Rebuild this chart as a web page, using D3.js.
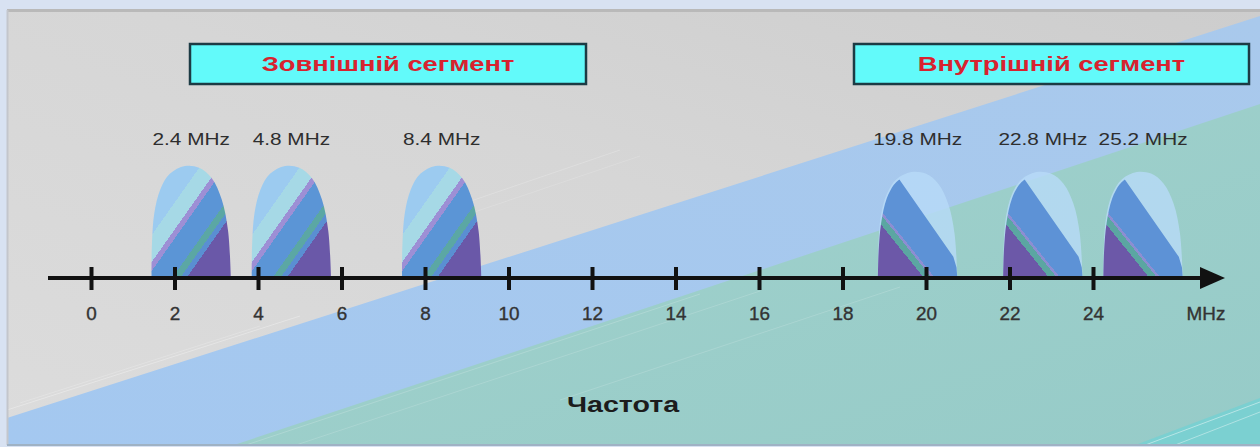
<!DOCTYPE html>
<html>
<head>
<meta charset="utf-8">
<script src="https://cdn.jsdelivr.net/npm/d3@7"></script>
<style>
  html, body { margin: 0; padding: 0; background: #d8e2f2; }
  svg { display: block; }
</style>
</head>
<body>
<svg id="chart" width="1260" height="447"></svg>
<script>
// ---- data ----
const tickValues = [0, 2, 4, 6, 8, 10, 12, 14, 16, 18, 20, 22, 24];
const axisUnit = "MHz";
const axisTitle = "Частота";
const segmentTitles = ["Зовнішній сегмент", "Внутрішній сегмент"];
const externalChannels = [2.4, 4.8, 8.4];     // upstream carriers, MHz
const internalChannels = [19.8, 22.8, 25.2];  // downstream carriers, MHz

// ---- layout ----
const W = 1260, H = 447;
const axisY = 278;
const halfBand = 0.95;        // half channel width, MHz
const FONT = "'Liberation Sans', Arial, sans-serif";

const svg = d3.select("#chart");
const defs = svg.append("defs");

const x = d3.scaleLinear().domain([0, 24]).range([91, 1093]);

// ---- background panel ----
const panel = { x0: 7, y0: 10, x1: W, y1: 445 };
const grayGrad = defs.append("linearGradient").attr("id", "gray-grad")
  .attr("x1", 0).attr("y1", 1).attr("x2", 1).attr("y2", 0);
grayGrad.append("stop").attr("offset", 0).attr("stop-color", "#dcdcdc");
grayGrad.append("stop").attr("offset", 0.55).attr("stop-color", "#d6d6d6");
grayGrad.append("stop").attr("offset", 1).attr("stop-color", "#cdcdcd");

const blueGrad = defs.append("linearGradient").attr("id", "blue-grad")
  .attr("x1", 0).attr("y1", 1).attr("x2", 1).attr("y2", 0);
blueGrad.append("stop").attr("offset", 0).attr("stop-color", "#a4c8f0");
blueGrad.append("stop").attr("offset", 1).attr("stop-color", "#a9c9ec");

const tealGrad = defs.append("linearGradient").attr("id", "teal-grad")
  .attr("x1", 0).attr("y1", 0).attr("x2", 1).attr("y2", 1);
tealGrad.append("stop").attr("offset", 0).attr("stop-color", "#a2d2cc");
tealGrad.append("stop").attr("offset", 1).attr("stop-color", "#96cbc8");

defs.append("clipPath").attr("id", "panel-clip")
  .append("rect").attr("x", panel.x0).attr("y", panel.y0)
  .attr("width", panel.x1 - panel.x0).attr("height", panel.y1 - panel.y0);

const bg = svg.append("g").attr("clip-path", "url(#panel-clip)");
bg.append("rect").attr("x", panel.x0).attr("y", panel.y0)
  .attr("width", panel.x1 - panel.x0).attr("height", panel.y1 - panel.y0)
  .attr("fill", "url(#gray-grad)");
// blue band below the first diagonal
bg.append("path").attr("d", "M7,418 L1260,16 L1260,447 L7,447 Z").attr("fill", "url(#blue-grad)");
// teal field below the second diagonal
bg.append("path").attr("d", "M228,447 L1260,104 L1260,447 Z").attr("fill", "url(#teal-grad)");
// bright corner
bg.append("path").attr("d", "M1130,447 L1260,398 L1260,447 Z").attr("fill", "#6fd2d4").attr("opacity", 0.7);

// faint light streaks along the diagonals
const streaks = [
  [7, 410, 300, 316, 0.3], [20, 403, 260, 326, 0.2],
  [240, 447, 700, 294, 0.18], [290, 447, 760, 291, 0.15],
  [560, 400, 900, 287, 0.15], [1140, 447, 1260, 402, 0.45], [1170, 447, 1260, 412, 0.4],
  [430, 215, 620, 150, 0.2], [445, 222, 640, 156, 0.15]
];
bg.selectAll("line.streak").data(streaks).join("line").attr("class", "streak")
  .attr("x1", d => d[0]).attr("y1", d => d[1]).attr("x2", d => d[2]).attr("y2", d => d[3])
  .attr("stroke", "#ffffff").attr("stroke-width", 1).attr("opacity", d => d[4]);

// panel frame
svg.append("line").attr("x1", panel.x0).attr("x2", W).attr("y1", 10.5).attr("y2", 10.5)
  .attr("stroke", "#b9b9b9").attr("stroke-width", 3);
svg.append("line").attr("x1", 7.5).attr("x2", 7.5).attr("y1", 10).attr("y2", 445)
  .attr("stroke", "#c3c6cc").attr("stroke-width", 2);
svg.append("line").attr("x1", panel.x0).attr("x2", W).attr("y1", 445).attr("y2", 445)
  .attr("stroke", "#9fb2c4").attr("stroke-width", 2);

// ---- channel shapes ----
// dome (bell) outline in unit coordinates: u across the band, v up from the axis
const domePts = [[0,0],[0.005,0.3],[0.035,0.58],[0.11,0.79],[0.23,0.93],[0.42,1],[0.6,0.985],[0.76,0.89],[0.885,0.7],[0.965,0.42],[1,0]];
// fin outline: curved rising edge, straight falling edge
const finRise = [[0,0],[0.008,0.25],[0.04,0.52],[0.11,0.75],[0.2,0.88],[0.27,0.93]];
const finFall = [[0.95,0.2],[0.99,0.1],[1,0]];

function bandPath(pts, center, height, tail) {
  const x0 = x(center - halfBand), x1 = x(center + halfBand);
  const px = p => [x0 + p[0] * (x1 - x0), axisY - p[1] * height];
  const line = d3.line().curve(d3.curveCatmullRom.alpha(0.5));
  let d = line(pts.map(px));
  if (tail) tail.forEach(p => { const q = px(p); d += `L${q[0]},${q[1]}`; });
  return d + "Z";
}

function stripeGradient(id, dir, stops) {
  const g = defs.append("linearGradient").attr("id", id)
    .attr("x1", dir[0]).attr("y1", dir[1]).attr("x2", dir[2]).attr("y2", dir[3]);
  stops.forEach(([a, b, c]) => {
    g.append("stop").attr("offset", a).attr("stop-color", c);
    g.append("stop").attr("offset", b).attr("stop-color", c);
  });
}
stripeGradient("dome-stripes", [0, 0, 1, 1], [
  [0, 0.31, "#9ccbf0"], [0.31, 0.43, "#a6d9e6"], [0.43, 0.47, "#9d8fd5"],
  [0.47, 0.63, "#5b95d6"], [0.63, 0.68, "#5ba7a4"], [0.68, 0.72, "#5a8fd2"],
  [0.72, 1, "#6a58a8"]
]);
stripeGradient("fin-stripes", [0, 1, 1, 0], [
  [0, 0.29, "#6c58a8"], [0.29, 0.34, "#5ba6a2"], [0.34, 0.36, "#8c8ed2"],
  [0.36, 0.64, "#5d92d6"], [0.64, 1, "#74a9e4"]
]);

const channels = svg.append("g");
channels.selectAll("path.ext").data(externalChannels).join("path").attr("class", "ext")
  .attr("d", d => bandPath(domePts, d, 112))
  .attr("fill", "url(#dome-stripes)");

channels.selectAll("path.ghost").data(internalChannels).join("path").attr("class", "ghost")
  .attr("d", d => bandPath(domePts, d, 106))
  .attr("fill", "#b8dbf8").attr("opacity", 0.8);
channels.selectAll("path.int").data(internalChannels).join("path").attr("class", "int")
  .attr("d", d => bandPath(finRise, d, 106, finFall))
  .attr("fill", "url(#fin-stripes)");

// ---- axis ----
const axisG = svg.append("g").attr("transform", `translate(0,${axisY})`);
axisG.append("line").attr("x1", 48).attr("x2", 1206).attr("y1", 0).attr("y2", 0)
  .attr("stroke", "#111").attr("stroke-width", 4);
axisG.append("path").attr("d", "M1200,-11 L1225,0 L1200,11 Z").attr("fill", "#111");

const axis = d3.axisBottom(x).tickValues(tickValues).tickSize(12).tickPadding(0);
const ax = axisG.append("g").call(axis);
ax.select(".domain").remove();
ax.selectAll(".tick line").attr("y1", -11).attr("y2", 12)
  .attr("stroke", "#111").attr("stroke-width", 4);
ax.selectAll(".tick text")
  .attr("y", null).attr("dy", null)
  .attr("transform", "translate(0,42) scale(1.05,1)")
  .style("font", `18px ${FONT}`).attr("fill", "#333")
  .attr("stroke", "#333").attr("stroke-width", 0.35);

function stretchedText(g, px, py, str, size, weight, fill, sx) {
  return g.append("text")
    .attr("transform", `translate(${px},${py}) scale(${sx},1)`)
    .attr("text-anchor", "middle")
    .style("font", `${weight} ${size}px ${FONT}`)
    .attr("fill", fill).text(str);
}

const labels = svg.append("g");
stretchedText(labels, 1206, axisY + 42, axisUnit, 18, "normal", "#333", 1.05)
  .attr("stroke", "#333").attr("stroke-width", 0.35);

// carrier frequency labels
externalChannels.concat(internalChannels).forEach(f => {
  stretchedText(labels, x(f), 145, `${f} MHz`, 16, "normal", "#2e2e2e", 1.3);
});

// segment title boxes
const boxes = [
  { x0: 190, x1: 586 },
  { x0: 854, x1: 1249 }
];
boxes.forEach((b, i) => {
  labels.append("rect").attr("x", b.x0).attr("y", 44).attr("width", b.x1 - b.x0).attr("height", 40)
    .attr("fill", "#62fafa").attr("stroke", "#1c3b44").attr("stroke-width", 2.5);
  stretchedText(labels, (b.x0 + b.x1) / 2, 71, segmentTitles[i], 21, "bold", "#d8222f", 1.3);
});

// axis title
stretchedText(labels, 623, 412, axisTitle, 22, "bold", "#1c1c1c", 1.3);
</script>
</body>
</html>
